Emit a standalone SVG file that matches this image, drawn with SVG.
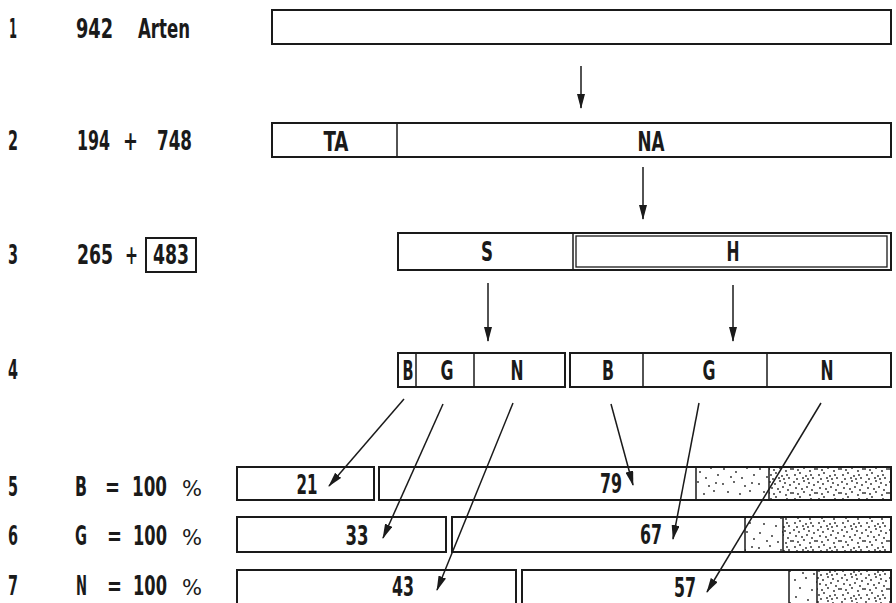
<svg xmlns="http://www.w3.org/2000/svg" width="896" height="603" viewBox="0 0 896 603">
<style>
.t{font-family:"Liberation Sans Narrow","DejaVu Sans Condensed","DejaVu Sans",sans-serif;font-weight:bold;font-size:26px;fill:#1a1a1a}
.c{text-anchor:middle}
.p{font-weight:normal;font-size:22px}
.box{fill:#fff;stroke:#1a1a1a;stroke-width:2}
.thin{fill:none;stroke:#1a1a1a;stroke-width:1.3}
.div{stroke:#1a1a1a;stroke-width:1.5}
.arr{stroke:#1a1a1a;stroke-width:1.5;fill:none;marker-end:url(#ah)}
</style>
<defs>
<marker id="ah" markerUnits="userSpaceOnUse" markerWidth="16" markerHeight="8" refX="14" refY="4" orient="auto">
<path d="M0,0 L15,4 L0,8 z" fill="#1a1a1a"/>
</marker>
<pattern id="light" patternUnits="userSpaceOnUse" width="36" height="32">
<rect width="36" height="32" fill="#fff"/>
<g fill="#222">
<circle cx="3" cy="4" r="0.9"/><circle cx="14" cy="2" r="0.9"/><circle cx="25" cy="6" r="0.9"/><circle cx="32" cy="3" r="0.9"/>
<circle cx="8" cy="12" r="0.9"/><circle cx="20" cy="14" r="0.9"/><circle cx="30" cy="11" r="0.9"/><circle cx="4" cy="21" r="0.9"/>
<circle cx="16" cy="24" r="0.9"/><circle cx="27" cy="20" r="0.9"/><circle cx="11" cy="29" r="0.9"/><circle cx="22" cy="30" r="0.9"/><circle cx="34" cy="27" r="0.9"/>
</g>
</pattern>
<pattern id="dense" patternUnits="userSpaceOnUse" width="24" height="24">
<rect width="24" height="24" fill="#fff"/>
<g fill="#222">
<circle cx="2" cy="2" r="0.9"/><circle cx="7" cy="4" r="0.9"/><circle cx="12" cy="1" r="0.9"/><circle cx="17" cy="3" r="0.9"/><circle cx="22" cy="5" r="0.9"/>
<circle cx="4" cy="8" r="0.9"/><circle cx="10" cy="9" r="0.9"/><circle cx="15" cy="7" r="0.9"/><circle cx="20" cy="10" r="0.9"/>
<circle cx="1" cy="13" r="0.9"/><circle cx="6" cy="14" r="0.9"/><circle cx="12" cy="12" r="0.9"/><circle cx="18" cy="15" r="0.9"/><circle cx="23" cy="13" r="0.9"/>
<circle cx="8" cy="17" r="0.9"/><circle cx="3" cy="19" r="0.9"/><circle cx="14" cy="20" r="0.9"/><circle cx="19" cy="19" r="0.9"/>
<circle cx="5" cy="23" r="0.9"/><circle cx="11" cy="22" r="0.9"/><circle cx="16" cy="23" r="0.9"/><circle cx="21" cy="22" r="0.9"/>
</g>
</pattern>
</defs>
<rect width="896" height="603" fill="#fff"/>

<g id="labels">
<text class="t" x="9" y="38" textLength="8" lengthAdjust="spacingAndGlyphs">1</text>
<text class="t" x="76" y="38" textLength="37" lengthAdjust="spacingAndGlyphs">942</text>
<text class="t" x="138" y="38" textLength="52" lengthAdjust="spacingAndGlyphs">Arten</text>
<text class="t" x="8" y="150" textLength="10" lengthAdjust="spacingAndGlyphs">2</text>
<text class="t" y="150"><tspan x="77" textLength="33" lengthAdjust="spacingAndGlyphs">194</tspan><tspan x="123" textLength="15" lengthAdjust="spacingAndGlyphs">+</tspan><tspan x="157" textLength="35" lengthAdjust="spacingAndGlyphs">748</tspan></text>
<text class="t" x="8" y="264" textLength="10" lengthAdjust="spacingAndGlyphs">3</text>
<text class="t" y="264"><tspan x="77" textLength="36" lengthAdjust="spacingAndGlyphs">265</tspan><tspan x="125" textLength="13" lengthAdjust="spacingAndGlyphs">+</tspan></text>
<text class="t" x="8" y="379" textLength="10" lengthAdjust="spacingAndGlyphs">4</text>
<text class="t" x="8" y="496" textLength="10" lengthAdjust="spacingAndGlyphs">5</text>
<text class="t" x="75" y="496" textLength="12" lengthAdjust="spacingAndGlyphs">B</text>
<text class="t" x="105" y="496" textLength="15" lengthAdjust="spacingAndGlyphs">=</text>
<text class="t" x="132" y="496" textLength="35" lengthAdjust="spacingAndGlyphs">100</text>
<text class="t p" x="182" y="496" textLength="20" lengthAdjust="spacingAndGlyphs">%</text>
<text class="t" x="8" y="545" textLength="10" lengthAdjust="spacingAndGlyphs">6</text>
<text class="t" x="75" y="545" textLength="12" lengthAdjust="spacingAndGlyphs">G</text>
<text class="t" x="107" y="545" textLength="15" lengthAdjust="spacingAndGlyphs">=</text>
<text class="t" x="133" y="545" textLength="34" lengthAdjust="spacingAndGlyphs">100</text>
<text class="t p" x="182" y="545" textLength="20" lengthAdjust="spacingAndGlyphs">%</text>
<text class="t" x="8" y="595" textLength="10" lengthAdjust="spacingAndGlyphs">7</text>
<text class="t" x="76" y="595" textLength="11" lengthAdjust="spacingAndGlyphs">N</text>
<text class="t" x="107" y="595" textLength="15" lengthAdjust="spacingAndGlyphs">=</text>
<text class="t" x="133" y="595" textLength="34" lengthAdjust="spacingAndGlyphs">100</text>
<text class="t p" x="182" y="595" textLength="20" lengthAdjust="spacingAndGlyphs">%</text>
</g>

<g id="box483">
<rect class="box" x="146" y="238" width="50" height="34" stroke-width="1.8"/>
<text class="t c" x="171" y="264" textLength="36" lengthAdjust="spacingAndGlyphs">483</text>
</g>

<g id="row1">
<rect class="box" x="272" y="10" width="619" height="34"/>
</g>

<g id="row2">
<rect class="box" x="272" y="123" width="619" height="34"/>
<line class="div" x1="397" y1="123" x2="397" y2="157"/>
<text class="t c" x="336" y="151" textLength="25" lengthAdjust="spacingAndGlyphs">TA</text>
<text class="t c" x="651" y="151" textLength="27" lengthAdjust="spacingAndGlyphs">NA</text>
</g>

<g id="row3">
<rect class="box" x="398" y="233" width="493" height="37"/>
<line class="div" x1="573" y1="233" x2="573" y2="270"/>
<rect class="thin" x="576" y="236" width="311" height="31"/>
<text class="t c" x="487" y="261" textLength="12" lengthAdjust="spacingAndGlyphs">S</text>
<text class="t c" x="733" y="261" textLength="13" lengthAdjust="spacingAndGlyphs">H</text>
</g>

<g id="row4-S">
<rect class="box" x="398" y="353" width="167" height="34"/>
<line class="div" x1="416" y1="353" x2="416" y2="387"/>
<line class="div" x1="474" y1="353" x2="474" y2="387"/>
<text class="t c" x="408" y="380" textLength="11" lengthAdjust="spacingAndGlyphs">B</text>
<text class="t c" x="447" y="380" textLength="13" lengthAdjust="spacingAndGlyphs">G</text>
<text class="t c" x="517" y="380" textLength="13" lengthAdjust="spacingAndGlyphs">N</text>
</g>

<g id="row4-H">
<rect class="box" x="570" y="353" width="321" height="34"/>
<line class="div" x1="643" y1="353" x2="643" y2="387"/>
<line class="div" x1="767" y1="353" x2="767" y2="387"/>
<text class="t c" x="608" y="380" textLength="12" lengthAdjust="spacingAndGlyphs">B</text>
<text class="t c" x="709" y="380" textLength="13" lengthAdjust="spacingAndGlyphs">G</text>
<text class="t c" x="827" y="380" textLength="13" lengthAdjust="spacingAndGlyphs">N</text>
</g>

<g id="row5">
<rect class="box" x="237" y="467" width="137" height="33"/>
<rect class="box" x="379" y="467" width="512" height="33"/>
<rect x="696" y="468" width="73" height="31" fill="url(#light)"/>
<rect x="769" y="468" width="121" height="31" fill="url(#dense)"/>
<line class="div" x1="696" y1="467" x2="696" y2="500"/>
<line class="div" x1="769" y1="467" x2="769" y2="500"/>
<text class="t c" x="307" y="494" textLength="21" lengthAdjust="spacingAndGlyphs">21</text>
<text class="t c" x="611" y="493" textLength="22" lengthAdjust="spacingAndGlyphs">79</text>
</g>

<g id="row6">
<rect class="box" x="237" y="517" width="209" height="35"/>
<rect class="box" x="452" y="517" width="439" height="35"/>
<rect x="745" y="518" width="38" height="33" fill="url(#light)"/>
<rect x="783" y="518" width="107" height="33" fill="url(#dense)"/>
<line class="div" x1="745" y1="517" x2="745" y2="552"/>
<line class="div" x1="783" y1="517" x2="783" y2="552"/>
<text class="t c" x="357" y="545" textLength="23" lengthAdjust="spacingAndGlyphs">33</text>
<text class="t c" x="651" y="544" textLength="22" lengthAdjust="spacingAndGlyphs">67</text>
</g>

<g id="row7">
<rect class="box" x="237" y="570" width="279" height="40"/>
<rect class="box" x="522" y="570" width="369" height="40"/>
<rect x="789" y="571" width="28" height="38" fill="url(#light)"/>
<rect x="817" y="571" width="73" height="38" fill="url(#dense)"/>
<line class="div" x1="789" y1="570" x2="789" y2="610"/>
<line class="div" x1="817" y1="570" x2="817" y2="610"/>
<text class="t c" x="403" y="596" textLength="22" lengthAdjust="spacingAndGlyphs">43</text>
<text class="t c" x="685" y="597" textLength="22" lengthAdjust="spacingAndGlyphs">57</text>
</g>

<g id="connectors">
<line class="arr" x1="581" y1="66" x2="581" y2="108"/>
<line class="arr" x1="643" y1="167" x2="643" y2="219"/>
<line class="arr" x1="488" y1="283" x2="488" y2="341"/>
<line class="arr" x1="733" y1="285" x2="733" y2="341"/>
<line class="arr" x1="404" y1="399" x2="329" y2="486"/>
<line class="arr" x1="443" y1="404" x2="383" y2="538"/>
<line class="arr" x1="513" y1="403" x2="437" y2="590"/>
<line class="arr" x1="611" y1="404" x2="633" y2="485"/>
<line class="arr" x1="699" y1="403" x2="673" y2="539"/>
<line class="arr" x1="821" y1="403" x2="707" y2="592"/>
</g>
</svg>
